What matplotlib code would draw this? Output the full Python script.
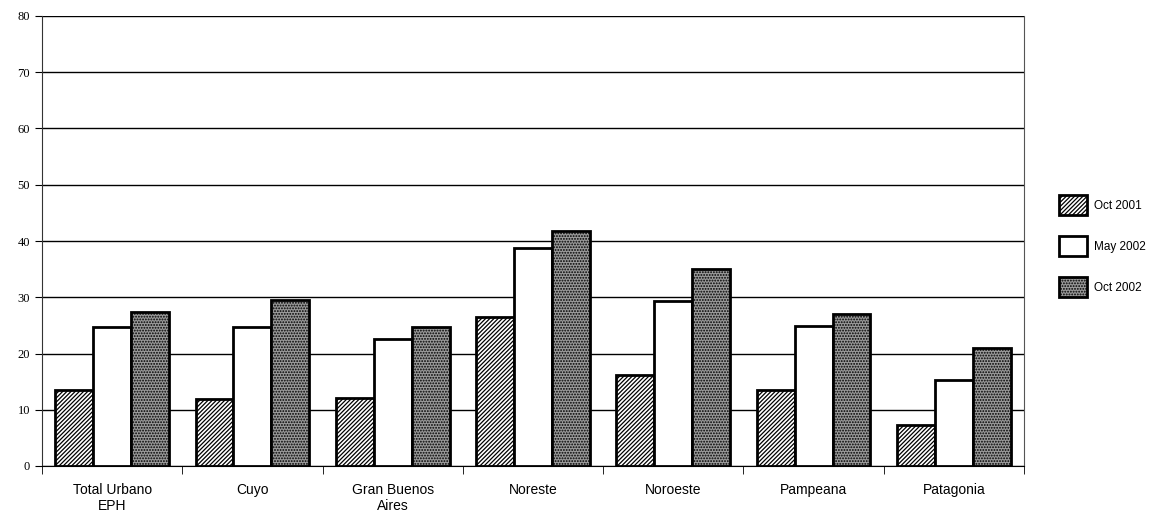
import numpy as np
import matplotlib
matplotlib.use("Agg")
import matplotlib.pyplot as plt

# data
regions = ["Total Urbano\nEPH", "Cuyo", "Gran Buenos\nAires", "Noreste",
           "Noroeste", "Pampeana", "Patagonia"]
oct_2001 = [13.5, 12.0, 12.1, 26.5, 16.2, 13.6, 7.3]
may_2002 = [24.8, 24.8, 22.6, 38.8, 29.4, 24.9, 15.3]
oct_2002 = [27.4, 29.6, 24.7, 41.8, 35.0, 27.0, 20.9]
series_names = ["Oct 2001", "May 2002", "Oct 2002"]

plt.rcParams['hatch.linewidth'] = 0.9

fig = plt.figure(figsize=(11.58, 5.24), dpi=100)
ax = fig.add_axes([42/1158, 58/524, 982/1158, 450/524])

x = np.arange(len(regions))
w = 0.27
styles = [
    dict(facecolor="white", hatch="////////"),
    dict(facecolor="white", hatch=None),
    dict(facecolor="#9a9a9a", hatch="......"),
]
for i, (vals, name) in enumerate(zip([oct_2001, may_2002, oct_2002], series_names)):
    ax.bar(x + (i - 1) * w, vals, w, label=name, edgecolor="black",
           linewidth=2, zorder=3, **styles[i])

ax.set_xlim(-0.5, len(regions) - 0.5)
ax.set_ylim(0, 80)
ax.set_yticks(range(0, 81, 10))
ax.yaxis.grid(True, color="black", linewidth=1)
ax.set_axisbelow(True)

ax.spines["top"].set_visible(False)
ax.spines["right"].set_color("#555555")
ax.spines["left"].set_color("#333333")

ax.set_xticks(x)
ax.set_xticklabels(regions, fontfamily="Liberation Sans", fontsize=10)
ax.tick_params(axis="x", length=0, pad=12)
ax.set_xticks(np.arange(-0.5, len(regions), 1), minor=True)
ax.tick_params(axis="x", which="minor", length=6, direction="out")
ax.tick_params(axis="y", length=5, labelsize=9)
for lab in ax.get_yticklabels():
    lab.set_fontfamily("Liberation Serif")

fig.legend(loc="center left", bbox_to_anchor=(1048/1158, 0.53), frameon=False,
           prop={"family": "Liberation Sans", "size": 8.5},
           labelspacing=1.8, handlelength=2.4, handleheight=2.2,
           handletextpad=0.6)

fig.savefig("out.png", dpi=100)
